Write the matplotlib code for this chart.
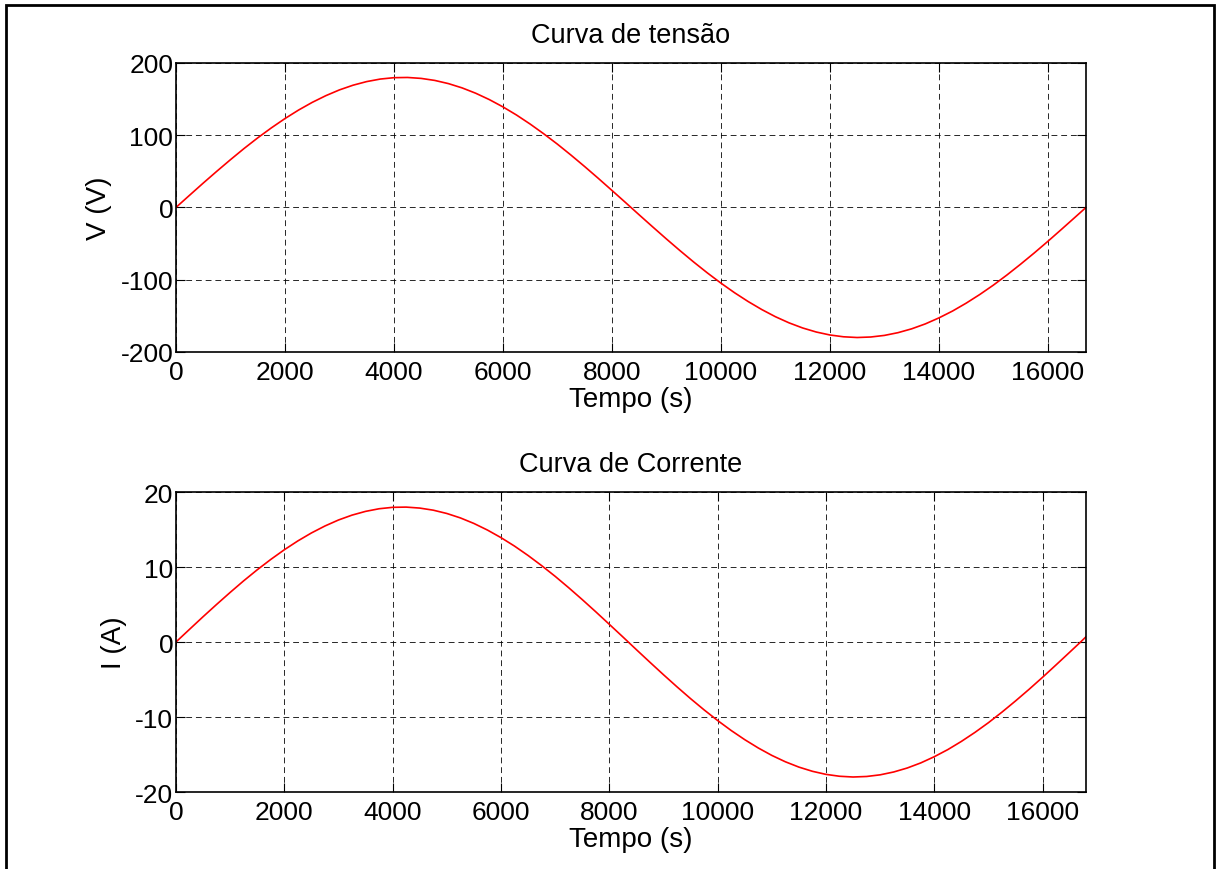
import matplotlib
matplotlib.use("Agg")
import matplotlib.pyplot as plt
from matplotlib.patches import Rectangle

plt.rcParams['font.family'] = ['Liberation Sans', 'DejaVu Sans']
plt.rcParams['axes.unicode_minus'] = False

# valores (amostras a cada 250 s)
tempo_v = list(range(0, 16501, 250)) + [16700]
tensao = [0, 16.9, 33.7, 50.1, 66.1, 81.6, 96.3, 110.1, 123.0, 134.8, 145.4,
          154.7, 162.7, 169.2, 174.2, 177.7, 179.6, 179.9, 178.6, 175.8, 171.4,
          165.5, 158.1, 149.3, 139.2, 127.9, 115.4, 101.9, 87.6, 72.4, 56.6,
          40.3, 23.6, 6.8, -10.2, -27.0, -43.6, -59.8, -75.5, -90.5, -104.7,
          -118.0, -130.2, -141.3, -151.2, -159.7, -166.8, -172.4, -176.5, -179.0,
          -180.0, -179.3, -177.1, -173.3, -168.0, -161.2, -152.9, -143.4, -132.5,
          -120.5, -107.5, -93.4, -78.5, -63.0, -46.9, -30.3, -13.5, 0]

tempo_i = list(range(0, 16501, 250)) + [16700, 16800]
corrente = [0, 1.69, 3.37, 5.01, 6.61, 8.16, 9.63, 11.01, 12.30, 13.48, 14.54,
            15.47, 16.27, 16.92, 17.42, 17.77, 17.96, 17.99, 17.86, 17.58, 17.14,
            16.55, 15.81, 14.93, 13.92, 12.79, 11.54, 10.19, 8.76, 7.24, 5.66,
            4.03, 2.36, 0.68, -1.02, -2.70, -4.36, -5.98, -7.55, -9.05, -10.47,
            -11.80, -13.02, -14.13, -15.12, -15.97, -16.68, -17.24, -17.65, -17.90,
            -18.00, -17.93, -17.71, -17.33, -16.80, -16.12, -15.29, -14.34, -13.25,
            -12.05, -10.75, -9.34, -7.85, -6.30, -4.69, -3.03, -1.35, 0.0, 0.7]

xticks = list(range(0, 16001, 2000))


def estilo(ax, xmax, yticks):
    ax.set_xlim(0, xmax)
    ax.set_ylim(yticks[0], yticks[-1])
    ax.set_xticks(xticks)
    ax.set_yticks(yticks)
    ax.grid(True, color='black', linestyle=(0, (6, 4)), linewidth=0.7, alpha=0.85)
    ax.tick_params(direction='in', labelsize=19, length=6.5, width=0.8,
                   top=True, right=True)
    ax.tick_params(axis='x', pad=6)
    ax.tick_params(axis='y', pad=2)
    for s in ax.spines.values():
        s.set_linewidth(1.2)
    ax.set_xlabel('Tempo (s)', fontsize=20, labelpad=1)


fig = plt.figure(figsize=(12.16, 8.7), dpi=100)
fig.patches.append(Rectangle((0.005, -0.01), 0.993, 1.003, transform=fig.transFigure,
                             fill=False, edgecolor='black', linewidth=2))

ax1 = fig.add_axes([0.1447, 0.5943, 0.7484, 0.3322])
ax1.plot(tempo_v, tensao, color='red', linewidth=1.2)
estilo(ax1, 16700, [-200, -100, 0, 100, 200])
ax1.set_ylabel('V (V)', fontsize=20, labelpad=6)
ax1.set_title('Curva de tensão', fontsize=19.5, pad=15)

ax2 = fig.add_axes([0.1447, 0.0885, 0.7484, 0.3448])
ax2.plot(tempo_i, corrente, color='red', linewidth=1.2)
estilo(ax2, 16800, [-20, -10, 0, 10, 20])
ax2.set_ylabel('I (A)', fontsize=20, labelpad=6)
ax2.set_title('Curva de Corrente', fontsize=19.5, pad=15)

fig.savefig('out.png', dpi=100)
